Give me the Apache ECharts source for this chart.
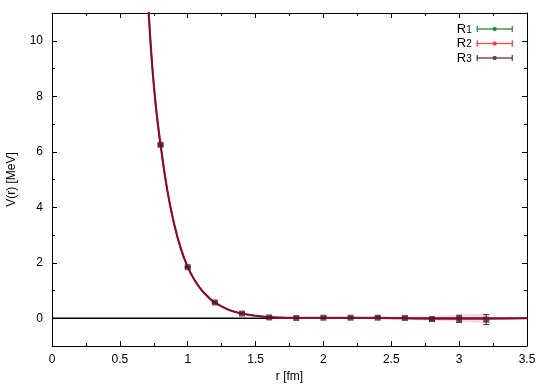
<!DOCTYPE html>
<html>
<head>
<meta charset="utf-8">
<script src="https://cdn.jsdelivr.net/npm/echarts@6/dist/echarts.min.js"></script>
<style>
  html, body { margin: 0; padding: 0; background: #fff; }
  #chart { width: 550px; height: 385px; }
</style>
</head>
<body>
<div id="chart"></div>
<script>
// fit curve (r in fm, V in MeV)
const curveR = [0.68, 0.70, 0.72, 0.74, 0.76, 0.78, 0.80, 0.85, 0.90, 0.95, 1.00, 1.05, 1.10, 1.15, 1.20, 1.30, 1.40, 1.50, 1.60, 1.70, 1.80, 2.00, 2.20, 2.40, 2.60, 2.80, 3.00, 3.20, 3.50];
const curveV = [13.2, 12.0, 10.4, 9.0, 7.9, 7.0, 6.25, 4.6, 3.4, 2.5, 1.85, 1.38, 1.03, 0.77, 0.57, 0.31, 0.17, 0.09, 0.04, 0.02, 0.01, 0.01, 0.01, 0.01, 0.0, -0.01, -0.01, -0.01, 0.0];

// lattice points with errors
const pointR = [0.8, 1.0, 1.2, 1.4, 1.6, 1.8, 2.0, 2.2, 2.4, 2.6, 2.8, 3.0, 3.2];
const pointV = [6.25, 1.84, 0.57, 0.17, 0.03, 0.01, 0.02, 0.02, 0.02, 0.01, -0.03, -0.02, -0.05];
const pointErr = [0.03, 0.02, 0.02, 0.02, 0.02, 0.02, 0.02, 0.02, 0.03, 0.03, 0.05, 0.13, 0.18];

// error band of the fit
const bandR = [2.0, 2.2, 2.4, 2.6, 2.8, 3.0, 3.2];
const bandLo = [-0.01, -0.02, -0.03, -0.05, -0.09, -0.13, -0.18];
const bandHi = [0.02, 0.03, 0.04, 0.05, 0.08, 0.13, 0.19];

const seriesNames = ['R1', 'R2', 'R3'];
const legendColors = ['#1f8a1f', '#ff3030', '#6a2a5a'];

const yMajor = [0, 2, 4, 6, 8, 10];
const yMinor = [-1, 1, 3, 5, 7, 9, 11];

const chart = echarts.init(document.getElementById('chart'));

const curveData = curveR.map((r, i) => [r, curveV[i]]);
const pointData = pointR.map((r, i) => [r, pointV[i], pointErr[i]]);
const bandData = bandR.map((r, i) => [r, bandLo[i], bandHi[i]]);

// legend icon: horizontal error bar with a dot in the middle
const errIcon = 'path://M0,4.8h36v0.4h-36zM0.3,2h0.4v6h-0.4zM35.3,2h0.4v6h-0.4z' +
  'M16.6,3.4h2.8v0.5h-2.8zM16.6,4.4h2.8v0.5h-2.8zM16.6,5.4h2.8v0.5h-2.8zM16.6,6.2h2.8v0.4h-2.8z';

const font = 'Liberation Sans, Arial, Helvetica, sans-serif';

const xCommon = {
  type: 'value', min: 0, max: 3.5, interval: 0.5,
  axisLine: { show: true, onZero: false, lineStyle: { color: '#000', width: 1 } },
  axisTick: { show: true, inside: true, length: 5, lineStyle: { color: '#000' } },
  minorTick: { show: true, splitNumber: 2, length: 3, lineStyle: { color: '#000' } },
  splitLine: { show: false }
};

function yAxisDef(pos, ticks, len, withLine) {
  return {
    type: 'value', min: -1, max: 11, interval: 1, position: pos,
    axisLine: { show: withLine, onZero: false, lineStyle: { color: '#000', width: 1 } },
    axisTick: { show: true, inside: true, length: len, customValues: ticks, lineStyle: { color: '#000' } },
    axisLabel: { show: false },
    splitLine: { show: false }
  };
}

const errorBars = {
  type: 'custom',
  z: 6,
  silent: true,
  data: pointData,
  renderItem: (params, api) => {
    const x = api.value(0), y = api.value(1), e = api.value(2);
    const top = api.coord([x, y + e]);
    const bot = api.coord([x, y - e]);
    const w = 3;
    const st = { stroke: '#5a1446', lineWidth: 1 };
    return {
      type: 'group',
      children: [
        { type: 'line', shape: { x1: top[0], y1: top[1], x2: bot[0], y2: bot[1] }, style: st },
        { type: 'line', shape: { x1: top[0] - w, y1: top[1], x2: top[0] + w, y2: top[1] }, style: st },
        { type: 'line', shape: { x1: bot[0] - w, y1: bot[1], x2: bot[0] + w, y2: bot[1] }, style: st }
      ]
    };
  }
};

const band = {
  type: 'custom',
  z: 1,
  silent: true,
  data: bandData,
  renderItem: (params, api) => {
    const i = params.dataIndex;
    if (i === bandData.length - 1) return;
    const a = bandData[i], b = bandData[i + 1];
    const pts = [
      api.coord([a[0], a[2]]), api.coord([b[0], b[2]]),
      api.coord([b[0], b[1]]), api.coord([a[0], a[1]])
    ];
    return { type: 'polygon', shape: { points: pts }, style: { fill: 'rgba(200,120,150,0.25)' } };
  }
};

const series = [
  band,
  {
    type: 'line',
    data: [[0, 0], [3.5, 0]],
    symbol: 'none',
    silent: true,
    lineStyle: { color: '#000', width: 1.5 },
    z: 2
  }
];

const lineWidths = [1, 2.2, 1.5];
const lineColors = ['#1f7a1f', '#d01828', '#701040'];
seriesNames.forEach((name, k) => {
  series.push({
    name: name,
    type: 'line',
    data: curveData,
    smooth: true,
    symbol: 'none',
    clip: true,
    color: legendColors[k],
    itemStyle: { color: legendColors[k] },
    lineStyle: { color: lineColors[k], width: lineWidths[k] },
    z: 3 + k
  });
});

series.push({
  type: 'scatter',
  data: pointData.map(p => [p[0], p[1]]),
  symbol: 'rect',
  symbolSize: 6,
  itemStyle: { color: '#5a1436' },
  z: 7
});
series.push(errorBars);

chart.setOption({
  animation: false,
  backgroundColor: '#fff',
  textStyle: { fontFamily: font },
  grid: { left: 52, right: 23, top: 13, bottom: 39, outerBoundsMode: 'none' },
  legend: {
    data: seriesNames.map((n, k) => ({
      name: n,
      itemStyle: { color: legendColors[k], borderColor: legendColors[k], borderWidth: 0.6 },
      lineStyle: { width: 0 }
    })),
    orient: 'vertical',
    right: 37,
    top: 18,
    padding: 0,
    itemGap: -3,
    itemWidth: 36,
    itemHeight: 9,
    align: 'right',
    icon: errIcon,
    selectedMode: false,
    formatter: name => '{b|R}{s|' + name.slice(1) + '}',
    textStyle: {
      lineHeight: 12,
      rich: {
        b: { fontSize: 13, color: '#000', fontFamily: font, lineHeight: 12 },
        s: { fontSize: 10, color: '#000', fontFamily: font, lineHeight: 12, verticalAlign: 'bottom', padding: [7, 0, 0, 0] }
      }
    }
  },
  xAxis: [
    Object.assign({}, xCommon, {
      name: 'r [fm]', nameLocation: 'middle', nameGap: 25,
      nameTextStyle: { fontSize: 12, color: '#000', fontFamily: font },
      axisLabel: { fontSize: 12, color: '#000', margin: 8 }
    }),
    Object.assign({}, xCommon, {
      position: 'top',
      axisLabel: { show: false }
    })
  ],
  yAxis: [
    Object.assign(yAxisDef('left', yMajor, 5, true), {
      name: 'V(r) [MeV]', nameLocation: 'middle', nameGap: 34,
      nameTextStyle: { fontSize: 12, color: '#000', fontFamily: font },
      axisLabel: { show: true, customValues: yMajor, fontSize: 12, color: '#000', margin: 9 }
    }),
    yAxisDef('right', yMajor, 5, true),
    yAxisDef('left', yMinor, 3, false),
    yAxisDef('right', yMinor, 3, false)
  ],
  series: series
});
</script>
</body>
</html>
